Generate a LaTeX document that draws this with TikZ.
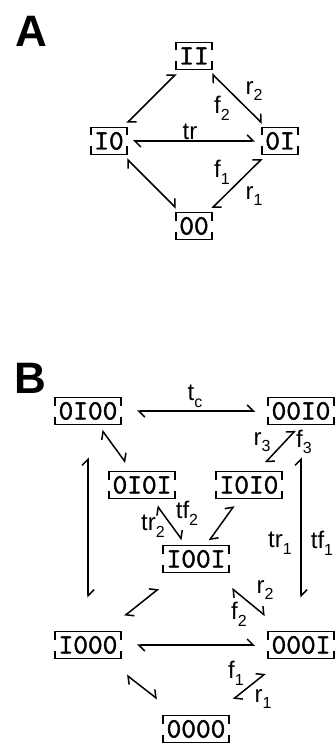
\documentclass[tikz,border=0pt]{standalone}
\usepackage{fontspec}
\newfontfamily\labfont{Liberation Sans}
\newfontfamily\boxfont[FakeBold=1.6]{lmmono10-regular.otf}
\usetikzlibrary{arrows.meta}
\newcommand\sbs[1]{\raisebox{-0.28em}{\fontsize{16}{16}\selectfont #1}}
\tikzset{
 st/.style={inner sep=0pt, outer sep=0pt, minimum height=27pt, text height=17pt, text depth=0pt, font=\fontsize{28}{28}\selectfont\boxfont},
 st2/.style={st, minimum width=36pt},
 st4/.style={st, minimum width=66pt},
 brk/.style={line width=1.9pt},
 lab/.style={inner sep=0pt, font=\fontsize{24}{24}\selectfont\labfont},
 big/.style={inner sep=0pt, font=\fontsize{44}{44}\selectfont\labfont\bfseries},
 arr/.style={line width=1.5pt, {Straight Barb[harpoon,length=6pt,width=12pt]}-{Straight Barb[harpoon,length=6pt,width=12pt]}}
}
\begin{document}
\begin{tikzpicture}[x=1pt,y=-1pt]
\useasboundingbox (0,0) rectangle (335,743);
% Panel A
\node[big] (lA) at (31,31) {A};
\node[st2] (II) at (194,56) {II};
\node[st2] (IO) at (109,141) {I0};
\node[st2] (OI) at (280,141) {0I};
\node[st2] (OO) at (194,226) {00};
\draw[arr, shorten <=6pt, shorten >=6pt] (IO) -- (II);
\draw[arr, shorten <=6pt, shorten >=6pt] (II) -- (OI);
\draw[arr, shorten <=6pt, shorten >=7pt] (IO) -- (OI);
\draw[arr, shorten <=6pt, shorten >=6pt] (IO) -- (OO);
\draw[arr, shorten <=6pt, shorten >=6pt] (OO) -- (OI);
\node[lab] (Atr) at (190,132) {tr};
\node[lab] (Ar2) at (254,91) {r\sbs{2}};
\node[lab] (Af2) at (222,108) {f\sbs{2}};
\node[lab] (Af1) at (222,172) {f\sbs{1}};
\node[lab] (Ar1) at (254,196) {r\sbs{1}};
% Panel B
\node[big] (lB) at (30,378) {B};
\node[st4] (b0100) at (88,411) {0I00};
\node[st4] (b0010) at (301,411) {00I0};
\node[st4] (b0101) at (142,485) {0I0I};
\node[st4] (b1010) at (249,485) {I0I0};
\node[st4] (b1001) at (196,559) {I00I};
\node[st4] (b1000) at (88,645) {I000};
\node[st4] (b0001) at (301,645) {000I};
\node[st4] (b0000) at (196,729) {0000};
\draw[arr, shorten <=16pt, shorten >=13pt] (b0100) -- (b0010);
\draw[arr, shorten <=7pt, shorten >=11pt] (b0100) -- (b0101);
\draw[arr, shorten <=8pt, shorten >=12pt] (b0010.south) -- ([xshift=8pt]b1010.north);
\draw[arr, shorten <=9pt, shorten >=7pt] (b0101) -- (b1001);
\draw[arr, shorten <=9pt, shorten >=6pt] (b1010) -- (b1001);
\draw[arr, shorten <=33pt, shorten >=34pt] (b0100) -- (b1000);
\draw[arr, shorten <=33pt, shorten >=34pt] (b0010) -- (b0001);
\draw[arr, shorten <=26pt, shorten >=25pt] (b1001) -- (b1000);
\draw[arr, shorten <=25pt, shorten >=25pt] (b1001) -- (b0001);
\draw[arr, shorten <=16pt, shorten >=13pt] (b1000) -- (b0001);
\draw[arr, shorten <=27pt, shorten >=27pt] (b1000) -- (b0000);
\draw[arr, shorten <=26pt, shorten >=24pt] (b0000) -- (b0001);
\node[lab] (Btc) at (195,396) {t\sbs{c}};
\node[lab] (Br3) at (262,442) {r\sbs{3}};
\node[lab] (Bf3) at (304,442) {f\sbs{3}};
\node[lab] (Btr2) at (153,526) {tr\sbs{2}};
\node[lab] (Btf2) at (187,513) {tf\sbs{2}};
\node[lab] (Btr1) at (280,543) {tr\sbs{1}};
\node[lab] (Btf1) at (322,543) {tf\sbs{1}};
\node[lab] (Br2) at (265,590) {r\sbs{2}};
\node[lab] (Bf2) at (239,614) {f\sbs{2}};
\node[lab] (Bf1) at (236,673) {f\sbs{1}};
\node[lab] (Br1) at (263,699) {r\sbs{1}};
% bracket frames
\foreach \n in {II,IO,OI,OO,b0100,b0010,b0101,b1010,b1001,b1000,b0001,b0000}{
 \draw[brk] (\n.north west) ++(0,8) -- (\n.north west) -- (\n.north east) -- ++(0,8)
            (\n.south west) ++(0,-8) -- (\n.south west) -- (\n.south east) -- ++(0,-8);
}
\end{tikzpicture}
\end{document}
